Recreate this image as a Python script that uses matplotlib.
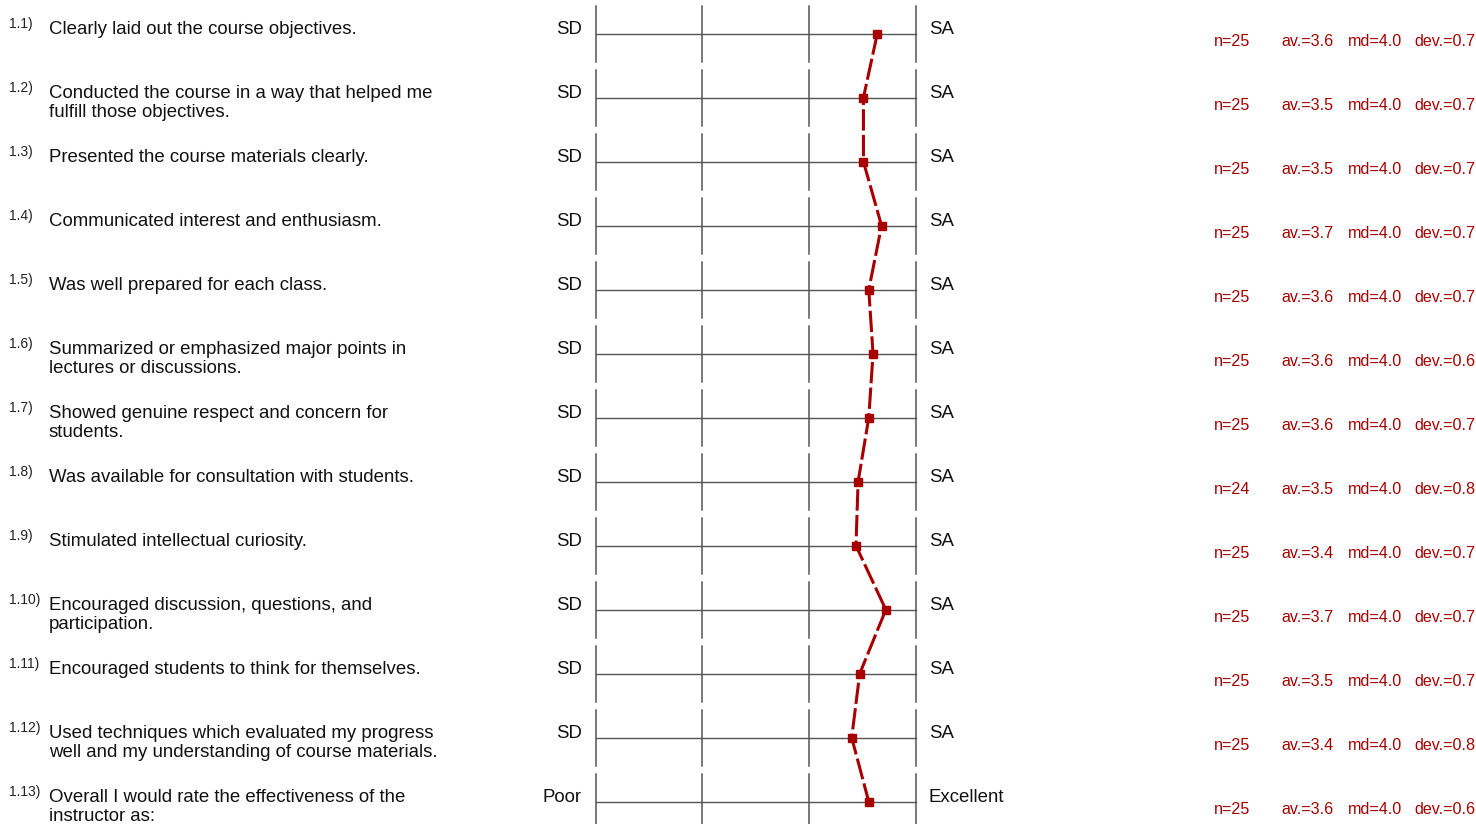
import matplotlib
matplotlib.use("Agg")
import matplotlib.pyplot as plt
from matplotlib.transforms import blended_transform_factory

plt.rcParams['font.family'] = ['Liberation Sans', 'DejaVu Sans']

numbers = ["1.1)", "1.2)", "1.3)", "1.4)", "1.5)", "1.6)", "1.7)", "1.8)",
           "1.9)", "1.10)", "1.11)", "1.12)", "1.13)"]
questions = [
    "Clearly laid out the course objectives.",
    "Conducted the course in a way that helped me\nfulfill those objectives.",
    "Presented the course materials clearly.",
    "Communicated interest and enthusiasm.",
    "Was well prepared for each class.",
    "Summarized or emphasized major points in\nlectures or discussions.",
    "Showed genuine respect and concern for\nstudents.",
    "Was available for consultation with students.",
    "Stimulated intellectual curiosity.",
    "Encouraged discussion, questions, and\nparticipation.",
    "Encouraged students to think for themselves.",
    "Used techniques which evaluated my progress\nwell and my understanding of course materials.",
    "Overall I would rate the effectiveness of the\ninstructor as:",
]
left_labels = ["SD"] * 12 + ["Poor"]
right_labels = ["SA"] * 12 + ["Excellent"]
means = [3.64, 3.51, 3.51, 3.68, 3.56, 3.60, 3.56, 3.46, 3.44, 3.72, 3.475, 3.40, 3.56]
n_vals = [25, 25, 25, 25, 25, 25, 25, 24, 25, 25, 25, 25, 25]
av_vals = ["3.6", "3.5", "3.5", "3.7", "3.6", "3.6", "3.6", "3.5", "3.4", "3.7", "3.5", "3.4", "3.6"]
md_vals = ["4.0"] * 13
dev_vals = ["0.7", "0.7", "0.7", "0.7", "0.7", "0.6", "0.7", "0.8", "0.7", "0.7", "0.7", "0.8", "0.6"]
scale_ticks = [1, 2, 3, 4]

W, H = 1476, 824
fig = plt.figure(figsize=(W / 100, H / 100), dpi=100)
x0, x1 = 595.7, 915.7
ax = fig.add_axes([x0 / W, 0, (x1 - x0) / W, 1])
nrows = len(questions)
row_px = 64.0
first_px = 33.7
ax.set_xlim(1, 4)
ax.set_ylim((H - first_px) / row_px, -first_px / row_px)
ax.axis('off')

gray = '#555555'
red = '#a80000'
half = 28 / row_px
for i in range(nrows):
    ax.plot([scale_ticks[0], scale_ticks[-1]], [i, i], color=gray, lw=1.0, clip_on=False, zorder=1)
    for t in scale_ticks:
        ax.plot([t, t], [i - half, i + half], color=gray, lw=1.1, clip_on=False, zorder=1)

rows = list(range(nrows))
ax.plot(means, rows, color=red, lw=2.2, dashes=(7, 1.4), clip_on=False, zorder=3)
ax.plot(means, rows, linestyle='none', marker='s', markersize=5.6, color=red, clip_on=False, zorder=4)

tr = blended_transform_factory(fig.transFigure, ax.transData)
def fx(px):
    return px / W

line_gap = 19.3 / row_px
fs = 13.4
sfs = 11.6
for i in range(nrows):
    ax.text(fx(9.5), i - 5.7 / row_px, numbers[i], transform=tr, fontsize=10, va='baseline', ha='left', color='#222222')
    for k, line in enumerate(questions[i].split("\n")):
        ax.text(fx(49), i + k * line_gap, line, transform=tr, fontsize=fs, va='baseline', ha='left',
                color='#111111')
    ax.text(fx(582), i, left_labels[i], transform=tr, fontsize=fs, va='baseline', ha='right', color='#111111')
    ax.text(fx(929), i, right_labels[i], transform=tr, fontsize=fs, va='baseline', ha='left', color='#111111')
    yb = i + 12 / row_px
    ax.text(fx(1214), yb, f"n={n_vals[i]}", transform=tr, fontsize=sfs, va='baseline', ha='left', color=red)
    ax.text(fx(1281), yb, f"av.={av_vals[i]}", transform=tr, fontsize=sfs, va='baseline', ha='left', color=red)
    ax.text(fx(1348), yb, f"md={md_vals[i]}", transform=tr, fontsize=sfs, va='baseline', ha='left', color=red)
    ax.text(fx(1414), yb, f"dev.={dev_vals[i]}", transform=tr, fontsize=sfs, va='baseline', ha='left', color=red)

fig.savefig("out.png", dpi=100)
